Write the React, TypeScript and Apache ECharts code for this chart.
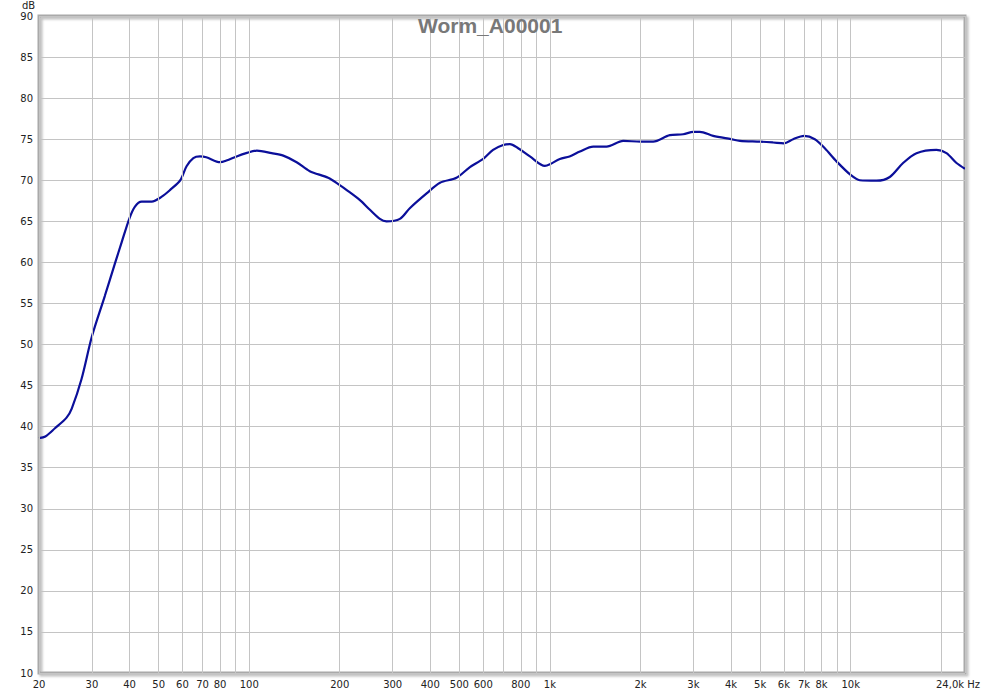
import React, { useEffect, useRef } from "react";
import * as echarts from "echarts";

const TITLE = "Worm_A00001";

const freqs: number[] = [
  20, 21, 22.6, 24.7, 25.7, 27.7, 30, 33.1, 35.8, 37.7, 40, 41.7, 43.9,
  47.4, 51.2, 54.5, 59, 61.9, 65.2, 68.6, 72, 80, 84, 90.8, 97.7, 106, 118.8, 129.8,
  143.8, 159, 183, 200, 211, 233, 252, 272, 286, 317, 342, 389, 431, 489, 542, 600,
  647, 699, 736, 784, 858, 962, 1000, 1079, 1162, 1258, 1393, 1543, 1752, 2000, 2204,
  2504, 2774, 3000, 3152, 3490, 4000, 4281, 5000, 5522, 6000, 6438, 7000, 7600, 8204,
  8974, 10000, 10723, 12190, 13493, 14937, 16554, 19284, 20824, 22490, 24000,
];

const dbs: number[] = [
  38.6, 38.8, 39.8, 41.1, 42.2, 45.8, 51.0, 55.9, 59.9, 62.5, 65.4, 66.8, 67.4,
  67.4, 68.0, 68.8, 70.0, 71.7, 72.7, 72.9, 72.8, 72.2, 72.4, 72.9, 73.3, 73.6, 73.3, 73.0,
  72.2, 71.1, 70.3, 69.4, 68.8, 67.6, 66.4, 65.3, 65.0, 65.3, 66.6, 68.4, 69.7, 70.3, 71.6, 72.6,
  73.7, 74.3, 74.4, 73.9, 72.9, 71.75, 71.95, 72.6, 72.9, 73.5, 74.1, 74.1, 74.8, 74.7, 74.7,
  75.5, 75.6, 75.9, 75.9, 75.4, 75.0, 74.8, 74.7, 74.6, 74.5, 75.0, 75.4, 75.0, 73.9,
  72.3, 70.65, 70.0, 69.95, 70.4, 72.1, 73.3, 73.7, 73.3, 72.1, 71.4,
];

const gridFreqs: number[] = [
  20, 30, 40, 50, 60, 70, 80, 90, 100, 200, 300, 400, 500, 600, 700, 800, 900, 1000,
  2000, 3000, 4000, 5000, 6000, 7000, 8000, 9000, 10000, 20000,
];
const gridLabels: string[] = [
  "20", "30", "40", "50", "60", "70", "80", "", "100", "200", "300", "400", "500", "600", "", "800", "", "1k",
  "2k", "3k", "4k", "5k", "6k", "7k", "8k", "", "10k", "",
];
const END_FREQ = 24000;
const END_LABEL = "24,0k Hz";

const Y_MIN = 10;
const Y_MAX = 90;
const Y_STEP = 5;

export default function App() {
  const ref = useRef<HTMLDivElement>(null);

  useEffect(() => {
    document.body.style.margin = "0";
    if (!ref.current) return;
    const chart = echarts.init(ref.current, null, { renderer: "svg" });
    const font = "DejaVu Sans";

    const vLines: any[] = gridFreqs.map((f, i) => ({
      xAxis: f,
      label: { formatter: gridLabels[i] },
    }));
    vLines.push({
      xAxis: END_FREQ,
      label: { formatter: END_LABEL, offset: [-7, 0] },
    });

    const option: any = {
      animation: false,
      backgroundColor: "#ffffff",
      title: {
        text: TITLE,
        left: 413,
        top: 10,
        textStyle: {
          fontFamily: "Liberation Sans",
          fontSize: 21,
          fontWeight: "bold",
          color: "#787878",
        },
      },
      graphic: [
        {
          type: "text",
          left: 22,
          top: 0,
          style: { text: "dB", font: `10px '${font}'`, fill: "#222" },
        },
      ],
      grid: {
        left: 39,
        right: 18,
        top: 16,
        bottom: 22,
        show: true,
        borderColor: "#a9a9a9",
        borderWidth: 3,
        shadowColor: "rgba(0,0,0,0.25)",
        shadowBlur: 2,
        shadowOffsetX: 2,
        shadowOffsetY: 2,
      },
      xAxis: {
        type: "log",
        min: 20,
        max: END_FREQ,
        logBase: 10,
        axisLine: { show: false },
        axisTick: { show: false },
        axisLabel: { show: false },
        splitLine: { show: false },
      },
      yAxis: {
        type: "value",
        min: Y_MIN,
        max: Y_MAX,
        interval: Y_STEP,
        axisLine: { show: false },
        axisTick: { show: false },
        axisLabel: {
          margin: 6,
          color: "#222",
          fontFamily: font,
          fontSize: 10,
        },
        splitLine: { lineStyle: { color: "#c4c4c4", width: 1 } },
      },
      series: [
        {
          type: "line",
          z: 1,
          data: [[1000, 50]],
          symbol: "none",
          lineStyle: { opacity: 0 },
          silent: true,
          markLine: {
            silent: true,
            symbol: "none",
            animation: false,
            lineStyle: { color: "#c4c4c4", type: "solid", width: 1 },
            label: {
              show: true,
              position: "start",
              distance: 6,
              color: "#222",
              fontFamily: font,
              fontSize: 10,
            },
            emphasis: { disabled: true },
            data: vLines,
          },
        },
        {
          type: "line",
          z: 3,
          data: freqs.map((f, i) => [f, dbs[i]]),
          symbol: "none",
          smooth: 0.3,
          lineStyle: { color: "#0b0f9a", width: 2.2 },
        },
      ],
    };

    chart.setOption(option);
    return () => chart.dispose();
  }, []);

  return (
    <div
      ref={ref}
      style={{ position: "fixed", left: 0, top: 0, width: 983, height: 695 }}
    />
  );
}
